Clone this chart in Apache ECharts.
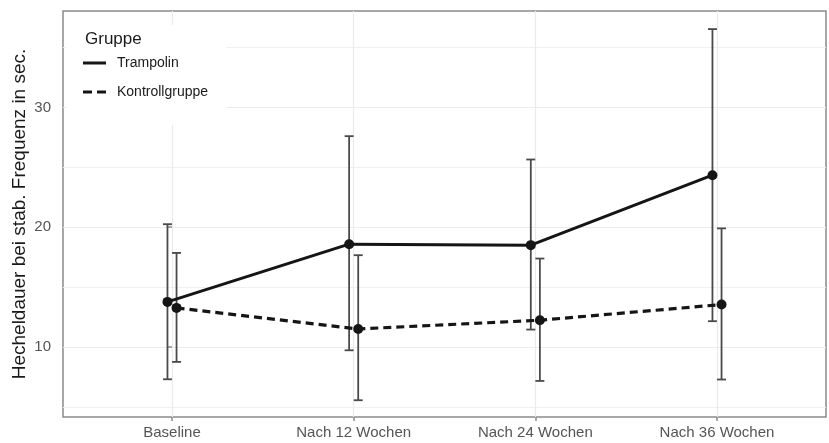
<!DOCTYPE html>
<html>
<head>
<meta charset="utf-8">
<script src="https://cdn.jsdelivr.net/npm/echarts@6/dist/echarts.min.js"></script>
<style>
html,body{margin:0;padding:0;background:#fff;}
#chart{width:829px;height:443px;}
</style>
</head>
<body>
<div id="chart"></div>
<script>
// ---- data ----
var categories = ['Baseline', 'Nach 12 Wochen', 'Nach 24 Wochen', 'Nach 36 Wochen'];
var seriesNames = ['Trampolin', 'Kontrollgruppe'];
var trampolinMean = [13.76, 18.58, 18.50, 24.34];
var trampolinLow  = [7.30, 9.72, 11.45, 12.15];
var trampolinHigh = [20.25, 27.60, 25.65, 36.54];
var kontrollMean  = [13.26, 11.50, 12.23, 13.54];
var kontrollLow   = [8.75, 5.55, 7.16, 7.28];
var kontrollHigh  = [17.85, 17.66, 17.38, 19.90];
var yTicks = [10, 20, 30];
var yMinorTicks = [5, 15, 25, 35];
var yTitle = 'Hecheldauer bei stab. Frequenz in sec.';
var legendTitle = 'Gruppe';

// ---- build ----
var dodge = 0.025;
var catIdx = categories.map(function (c, i) { return i; });
function pts(mean, off) { return mean.map(function (v, i) { return [i + off, v]; }); }
function errs(lo, hi, off) { return lo.map(function (v, i) { return [i + off, v, hi[i]]; }); }

var FONT = 'Liberation Sans, Arial, sans-serif';
var lineColor = '#151515';
var errColor = '#4a4a4a';

function errRender(params, api) {
  var x = api.value(0), lo = api.value(1), hi = api.value(2);
  var a = api.coord([x, hi]), b = api.coord([x, lo]);
  var hw = 4.5;
  var st = { stroke: errColor, lineWidth: 1.8 };
  return {
    type: 'group',
    children: [
      { type: 'line', shape: { x1: a[0], y1: a[1], x2: b[0], y2: b[1] }, style: st },
      { type: 'line', shape: { x1: a[0] - hw, y1: a[1], x2: a[0] + hw, y2: a[1] }, style: st },
      { type: 'line', shape: { x1: b[0] - hw, y1: b[1], x2: b[0] + hw, y2: b[1] }, style: st }
    ]
  };
}

var chart = echarts.init(document.getElementById('chart'), null, { renderer: 'canvas' });
var option = {
  animation: false,
  backgroundColor: '#fff',
  textStyle: { fontFamily: FONT },
  title: {
    text: legendTitle, left: 80, top: 26,
    textStyle: { fontFamily: FONT, fontSize: 17, fontWeight: 'normal', color: '#1a1a1a' }
  },
  legend: {
    data: [
      { name: seriesNames[0], icon: 'path://M0,0H23V3H0Z' },
      { name: seriesNames[1], icon: 'path://M0,0H9V3H0Z M14,0H23V3H14Z' }
    ],
    orient: 'vertical',
    left: 66, top: 25,
    padding: [31, 18, 26, 17],
    backgroundColor: '#fff',
    itemWidth: 23, itemHeight: 3, itemGap: 15,
    textStyle: { fontFamily: FONT, fontSize: 14, color: '#1a1a1a', padding: [0, 0, 0, 6] },
    selectedMode: false
  },
  grid: {
    left: 63, right: 3, top: 11, bottom: 26,
    outerBoundsMode: 'none', containLabel: false,
    show: true, borderColor: '#8a8a8a', borderWidth: 1.5, backgroundColor: 'transparent'
  },
  xAxis: {
    type: 'value', min: -0.6, max: 3.6,
    axisLine: { show: false },
    axisTick: { show: true, length: 4, customValues: catIdx, lineStyle: { color: '#8a8a8a', width: 1.5 } },
    axisLabel: {
      customValues: catIdx, margin: 8, fontSize: 15, color: '#555', fontFamily: FONT,
      formatter: function (v) { return categories[Math.round(v)]; }
    },
    splitLine: { show: true, lineStyle: { color: '#ebebeb', width: 1.2 } }
  },
  yAxis: [{
    type: 'value', min: 4.15, max: 38.05,
    name: yTitle, nameLocation: 'middle', nameRotate: 90, nameGap: 34, nameMoveOverlap: false,
    nameTextStyle: { fontFamily: FONT, fontSize: 19, color: '#1a1a1a' },
    axisLine: { show: false },
    axisTick: { show: true, length: 5, customValues: yTicks, lineStyle: { color: '#8a8a8a', width: 1.5 } },
    axisLabel: { customValues: yTicks, margin: 12, fontSize: 15, color: '#555', fontFamily: FONT },
    splitLine: { show: true, lineStyle: { color: '#ebebeb', width: 1.2 } }
  }, {
    type: 'value', min: 4.15, max: 38.05, position: 'left',
    axisLine: { show: false },
    axisTick: { show: false, customValues: yMinorTicks },
    axisLabel: { show: false, customValues: yMinorTicks },
    splitLine: { show: true, lineStyle: { color: '#f0f0f0', width: 1 } }
  }],
  series: [
    { name: 'err1', type: 'custom', renderItem: errRender, data: errs(trampolinLow, trampolinHigh, -dodge),
      encode: { x: 0, y: [1, 2] }, z: 2, silent: true },
    { name: 'err2', type: 'custom', renderItem: errRender, data: errs(kontrollLow, kontrollHigh, dodge),
      encode: { x: 0, y: [1, 2] }, z: 2, silent: true },
    { name: seriesNames[0], type: 'line', data: pts(trampolinMean, -dodge), symbol: 'none',
      lineStyle: { color: lineColor, width: 3, type: 'solid' }, itemStyle: { color: lineColor }, z: 3 },
    { name: seriesNames[1], type: 'line', data: pts(kontrollMean, dodge), symbol: 'none',
      lineStyle: { color: lineColor, width: 3.2, type: [8, 5] }, itemStyle: { color: lineColor }, z: 3 },
    { name: 'pts1', type: 'scatter', data: pts(trampolinMean, -dodge), symbolSize: 10,
      itemStyle: { color: lineColor, opacity: 1 }, z: 4 },
    { name: 'pts2', type: 'scatter', data: pts(kontrollMean, dodge), symbolSize: 10,
      itemStyle: { color: lineColor, opacity: 1 }, z: 4 }
  ]
};
chart.setOption(option);
</script>
</body>
</html>
